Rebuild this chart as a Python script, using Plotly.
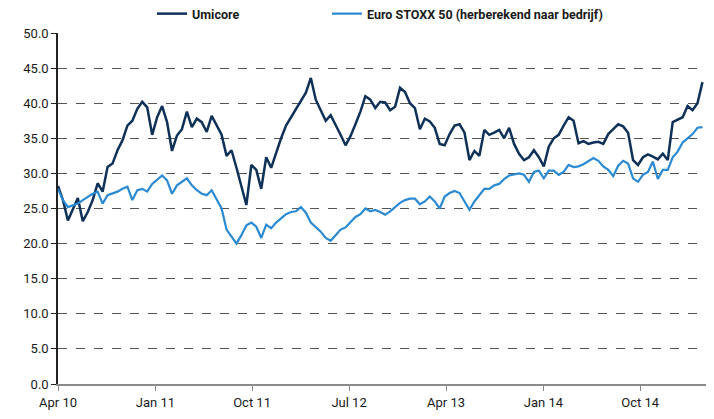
import pandas as pd
import plotly.graph_objects as go

start_date = "2010-04-01"
n_points = 131
dates = pd.date_range(start_date, periods=n_points, freq="14D")

umicore = [
    28.2, 26.2, 23.3, 24.8, 26.5, 23.2, 24.5, 26.2, 28.6, 27.4,
    30.9, 31.4, 33.3, 34.7, 36.8, 37.5, 39.2, 40.2, 39.4, 35.5,
    38.0, 39.6, 37.3, 33.2, 35.4, 36.3, 38.8, 36.6, 37.8, 37.3,
    35.9, 38.2, 36.8, 35.5, 32.5, 33.3, 30.8, 28.0, 25.5, 31.2,
    30.5, 27.8, 32.3, 30.8, 33.0, 35.0, 36.8, 38.0, 39.2, 40.4,
    41.5, 43.6, 40.5, 39.0, 37.5, 38.3, 37.0, 35.5, 34.0, 35.3,
    37.0, 38.8, 41.0, 40.5, 39.3, 40.2, 40.1, 39.0, 39.5, 42.2,
    41.6, 40.0, 39.3, 36.3, 37.8, 37.4, 36.5, 34.2, 34.0, 35.6,
    36.8, 37.0, 35.8, 31.9, 33.2, 32.5, 36.2, 35.5, 35.8, 36.2,
    35.0, 36.5, 34.2, 32.8, 31.9, 32.3, 33.3, 32.3, 31.0, 33.8,
    35.0, 35.5, 36.8, 38.0, 37.5, 34.3, 34.6, 34.2, 34.4, 34.5,
    34.2, 35.6, 36.3, 37.0, 36.7, 35.8, 31.9, 31.2, 32.3, 32.7,
    32.4, 32.0, 32.8, 31.9, 37.3, 37.7, 38.0, 39.6, 39.0, 40.0,
    43.0,
]

stoxx = [
    27.8, 26.2, 25.2, 25.5, 25.7, 26.2, 26.7, 27.1, 27.4, 25.7,
    26.9, 27.1, 27.4, 27.8, 28.1, 26.2, 27.6, 27.8, 27.4, 28.5,
    29.1, 29.7, 29.0, 27.1, 28.3, 28.8, 29.3, 28.3, 27.6, 27.1,
    26.9, 27.6, 26.3, 25.0, 22.0, 21.0, 20.0, 21.2, 22.6, 23.0,
    22.4, 20.8, 22.7, 22.2, 23.0, 23.6, 24.2, 24.5, 24.6, 25.2,
    24.4, 23.0, 22.4, 21.7, 20.8, 20.4, 21.2, 22.0, 22.3, 23.0,
    23.8, 24.2, 25.0, 24.6, 24.8, 24.5, 24.1, 24.6, 25.2, 25.8,
    26.2, 26.4, 26.4, 25.6, 26.0, 26.7, 26.0, 25.0, 26.7, 27.2,
    27.5, 27.2, 26.0, 24.8, 26.0, 26.9, 27.8, 27.8, 28.3, 28.5,
    29.2, 29.7, 29.8, 30.0, 29.8, 28.8, 30.2, 30.4, 29.3, 30.4,
    30.4, 29.8, 30.2, 31.2, 30.9, 31.0, 31.3, 31.8, 32.2, 31.8,
    31.0, 30.5, 29.6, 31.1, 31.8, 31.4, 29.3, 28.8, 29.8, 30.2,
    31.7, 29.2, 30.5, 30.5, 32.3, 33.1, 34.4, 35.0, 35.6, 36.5,
    36.6,
]

series_names = ["Umicore", "Euro STOXX 50 (herberekend naar bedrijf)"]
colors = ["#0f3158", "#2b8ad2"]

FONT = "Roboto, Liberation Sans, sans-serif"

fig = go.Figure()
fig.add_trace(go.Scatter(x=dates, y=umicore, mode="lines", name=series_names[0],
                         line=dict(color=colors[0], width=2.5), legend="legend"))
fig.add_trace(go.Scatter(x=dates, y=stoxx, mode="lines", name=series_names[1],
                         line=dict(color=colors[1], width=2.2), legend="legend2"))

leg_common = dict(orientation="h", y=1 - 14 / 419, yanchor="middle", yref="container",
                  xref="container", xanchor="left",
                  font=dict(size=12.5, color="#1a1a1a", family=FONT, weight="bold"),
                  itemwidth=30, bgcolor="rgba(0,0,0,0)",
                  tracegroupgap=0)

fig.update_layout(
    width=714, height=419,
    margin=dict(l=58, r=8, t=33, b=35, autoexpand=False),
    paper_bgcolor="white", plot_bgcolor="white",
    font=dict(family=FONT, size=13, color="#1a1a1a"),
    showlegend=True,
    legend=dict(x=152 / 714, **leg_common),
    legend2=dict(x=327 / 714, **leg_common),
    xaxis=dict(
        type="date",
        range=["2010-04-01", "2015-04-05"],
        tick0="2010-04-01", dtick="M9", tickformat="%b %y",
        showgrid=False, zeroline=False,
        showline=True, linecolor="#8a8a8a", linewidth=2,
        ticks="outside", ticklen=5, tickcolor="#8a8a8a", tickwidth=1,
        tickfont=dict(size=13, color="#1a1a1a"),
    ),
    yaxis=dict(
        range=[0, 50], dtick=5, tick0=0, tickformat=".1f",
        showgrid=True, gridcolor="#555555", griddash="dash", gridwidth=1,
        zeroline=False,
        showline=True, linecolor="#222222", linewidth=1.5,
        ticks="outside", ticklen=5, tickcolor="#222222",
        tickfont=dict(size=13, color="#1a1a1a"),
    ),
)

fig.write_html("out.html")
